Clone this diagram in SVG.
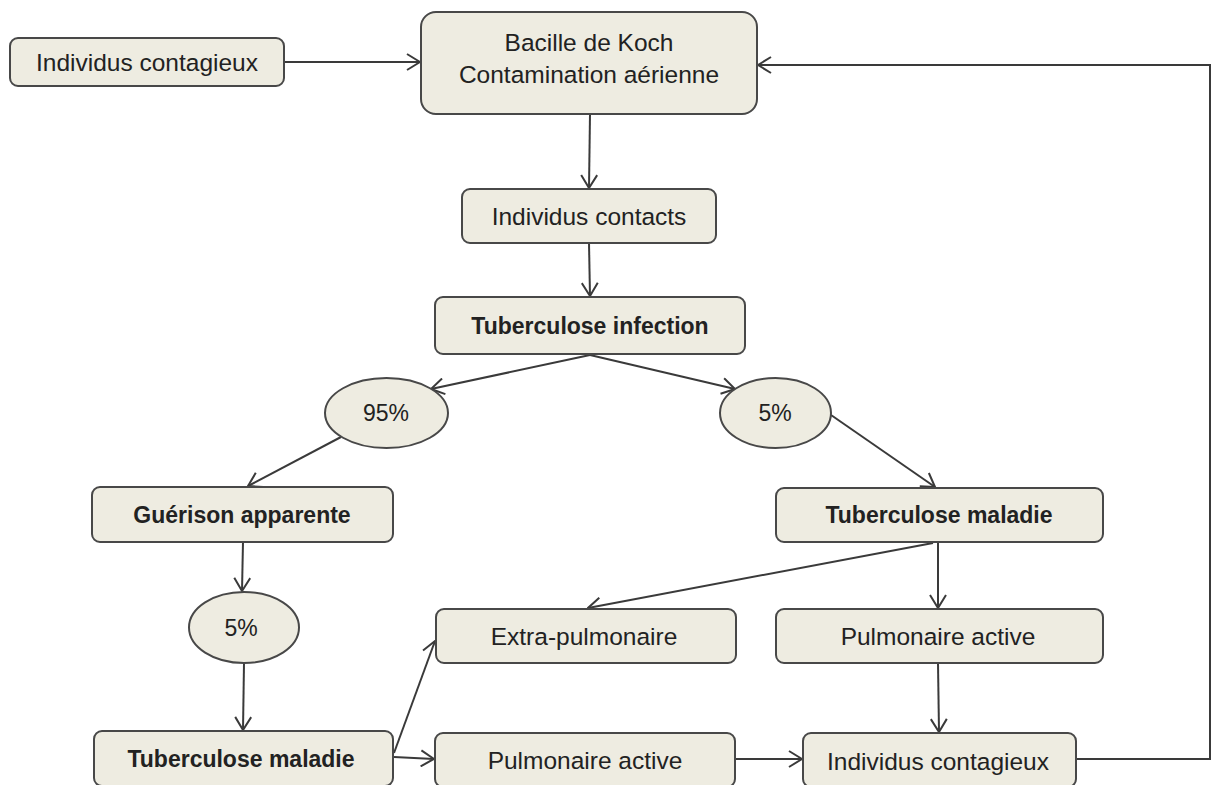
<svg xmlns="http://www.w3.org/2000/svg" width="1212" height="785" viewBox="0 0 1212 785">
<style>
.box{fill:#EEECE1;stroke:#484848;stroke-width:2}
.t{font-family:"Liberation Sans",Arial,sans-serif;font-size:24.5px;fill:#222;text-anchor:middle}
.b{font-weight:bold;font-size:23px}
.p{font-size:23px}
.c{fill:none;stroke:#3a3a3a;stroke-width:2}
</style>
<defs>
<marker id="arr" markerUnits="userSpaceOnUse" viewBox="0 0 15 18" refX="14" refY="9" markerWidth="15" markerHeight="18" orient="auto">
<path d="M1,1 L14,9 L1,17" fill="none" stroke="#3a3a3a" stroke-width="2"/>
</marker>
</defs>
<rect width="1212" height="785" fill="#fff"/>
<g id="connectors" class="conn">
<line class="c" x1="284" y1="62" x2="420" y2="62" marker-end="url(#arr)"/>
<line class="c" x1="590" y1="114" x2="589" y2="188" marker-end="url(#arr)"/>
<line class="c" x1="589" y1="243" x2="590" y2="296" marker-end="url(#arr)"/>
<line class="c" x1="590" y1="355" x2="431" y2="389" marker-end="url(#arr)"/>
<line class="c" x1="590" y1="355" x2="735" y2="389" marker-end="url(#arr)"/>
<line class="c" x1="341" y1="437" x2="248" y2="486" marker-end="url(#arr)"/>
<line class="c" x1="831" y1="415" x2="935" y2="487" marker-end="url(#arr)"/>
<line class="c" x1="243" y1="542" x2="242" y2="591" marker-end="url(#arr)"/>
<line class="c" x1="244" y1="663" x2="243" y2="730" marker-end="url(#arr)"/>
<line class="c" x1="938" y1="542" x2="938" y2="608" marker-end="url(#arr)"/>
<line class="c" x1="933" y1="543" x2="588" y2="608" marker-end="url(#arr)"/>
<line class="c" x1="938" y1="663" x2="939" y2="732" marker-end="url(#arr)"/>
<line class="c" x1="394" y1="753" x2="435" y2="641" marker-end="url(#arr)"/>
<line class="c" x1="394" y1="757" x2="434" y2="759" marker-end="url(#arr)"/>
<line class="c" x1="735" y1="759" x2="802" y2="759" marker-end="url(#arr)"/>
<polyline class="c" points="1076,759 1210,759 1210,65 758,65" marker-end="url(#arr)"/>
</g>
<g id="n1"><rect class="box" x="10" y="38" width="274" height="48" rx="8"/><text class="t" x="147" y="71">Individus contagieux</text></g>
<g id="n2"><rect class="box" x="421" y="12" width="336" height="102" rx="15"/><text class="t" x="589" y="51">Bacille de Koch</text><text class="t" x="589" y="83">Contamination aérienne</text></g>
<g id="n3"><rect class="box" x="462" y="189" width="254" height="54" rx="8"/><text class="t" x="589" y="225">Individus contacts</text></g>
<g id="n4"><rect class="box" x="435" y="297" width="310" height="57" rx="8"/><text class="t b" x="590" y="334">Tuberculose infection</text></g>
<g id="n5"><ellipse class="box" cx="386.5" cy="413" rx="61.5" ry="35"/><text class="t p" x="386" y="421">95%</text></g>
<g id="n6"><ellipse class="box" cx="775.5" cy="413" rx="55.5" ry="35"/><text class="t p" x="775" y="421">5%</text></g>
<g id="n7"><rect class="box" x="92" y="487" width="301" height="55" rx="8"/><text class="t b" x="242" y="523">Guérison apparente</text></g>
<g id="n8"><rect class="box" x="776" y="488" width="327" height="54" rx="8"/><text class="t b" x="939" y="523">Tuberculose maladie</text></g>
<g id="n9"><ellipse class="box" cx="244" cy="627.5" rx="55" ry="35.5"/><text class="t p" x="241" y="636">5%</text></g>
<g id="n10"><rect class="box" x="436" y="609" width="300" height="54" rx="8"/><text class="t" x="584" y="645">Extra-pulmonaire</text></g>
<g id="n11"><rect class="box" x="776" y="609" width="327" height="54" rx="8"/><text class="t" x="938" y="645">Pulmonaire active</text></g>
<g id="n12"><rect class="box" x="94" y="731" width="299" height="55" rx="8"/><text class="t b" x="241" y="767">Tuberculose maladie</text></g>
<g id="n13"><rect class="box" x="435" y="733" width="300" height="54" rx="8"/><text class="t" x="585" y="769">Pulmonaire active</text></g>
<g id="n14"><rect class="box" x="803" y="733" width="273" height="54" rx="8"/><text class="t" x="938" y="770">Individus contagieux</text></g>
</svg>
